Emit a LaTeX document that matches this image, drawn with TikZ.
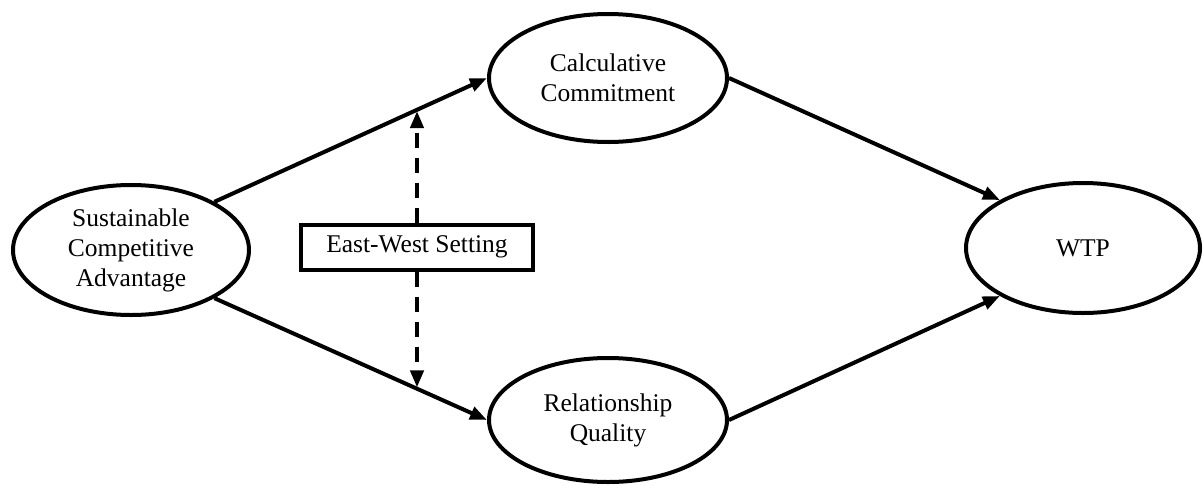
\documentclass[tikz,border=0pt]{standalone}
\usepackage{fontspec}
\setmainfont{Liberation Serif}
\usetikzlibrary{shapes.geometric,arrows.meta}
\begin{document}
\begin{tikzpicture}[x=1pt,y=-1pt,
  construct/.style={ellipse,draw,line width=4pt,inner sep=0pt,align=center,
    font=\fontsize{25.5}{30}\selectfont},
  setbox/.style={rectangle,draw,line width=4pt,inner sep=0pt,minimum width=232pt,minimum height=45pt,
    font=\fontsize{25.5}{30}\selectfont},
  path/.style={line width=4pt,-{Triangle[length=17pt,width=13pt]}},
  moder/.style={line width=4pt,dash pattern=on 15pt off 10pt,-{Triangle[length=17pt,width=13pt]}}]
\useasboundingbox (0,0) rectangle (1203,485);
\node[construct,minimum width=236pt,minimum height=130pt] (sca) at (131,250) {Sustainable\\Competitive\\Advantage};
\node[construct,minimum width=238pt,minimum height=128pt] (cc) at (608,78) {Calculative\\Commitment};
\node[construct,minimum width=238pt,minimum height=124pt] (rq) at (608,420) {Relationship\\Quality};
\node[construct,minimum width=234pt,minimum height=130pt] (wtp) at (1083,248) {WTP};
\node[setbox] (box) at (417,247) {East-West Setting};
\draw[path] (sca.30) -- (cc.west) coordinate[pos=0.733] (t1);
\draw[path] (sca.-30) -- (rq.west) coordinate[pos=0.733] (t2);
\draw[path] (cc.east) -- (wtp.150);
\draw[path] (rq.east) -- (wtp.210);
\draw[moder] (box.north) -- (box.north |- t1);
\draw[moder] (box.south) -- (box.south |- t2);
\end{tikzpicture}
\end{document}
